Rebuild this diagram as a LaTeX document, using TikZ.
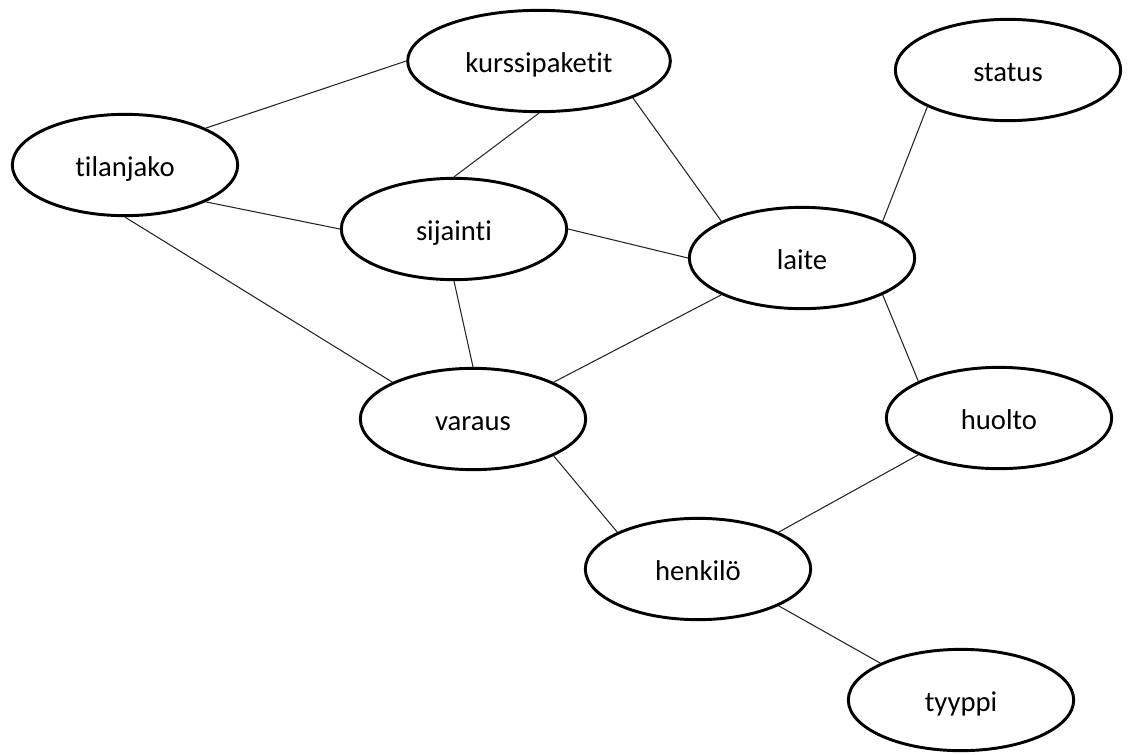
\documentclass[tikz,border=0pt]{standalone}
\usepackage{fontspec}
\setmainfont{Carlito}[Ligatures={NoCommon,NoContextual}]
\usepackage{tikz}
\usetikzlibrary{shapes.geometric}
\definecolor{edgeC}{HTML}{262626}

\begin{document}
\begin{tikzpicture}[x=0.75pt,y=-0.75pt,
  every node/.style={font=\fontsize{21.5}{26}\selectfont},
  ent/.style={ellipse,draw=black,line width=2.2pt,fill=white,inner sep=0pt,
    text height=16.5pt,text depth=0pt,
    minimum width=169pt,minimum height=76pt},
  rel/.style={edgeC,line width=0.8pt}]
  \useasboundingbox (0,0) rectangle (1128,754);
  \node[ent,minimum width=197pt] (kurssi) at (539,61) {kurssipaketit};
  \node[ent] (status)   at (1008,70)  {status};
  \node[ent] (tilan)    at (125,165)  {tilanjako};
  \node[ent] (sijainti) at (454,229)  {sijainti};
  \node[ent] (laite)    at (802,258)  {laite};
  \node[ent] (varaus)   at (473,419)  {varaus};
  \node[ent] (huolto)   at (999,418)  {huolto};
  \node[ent] (henkilo)  at (698,569)  {henkilö};
  \node[ent] (tyyppi)   at (961,700)  {tyyppi};
  \foreach \a/\b in {tilan.north east/kurssi.west,
                     kurssi.south/sijainti.north,
                     kurssi.south east/laite.north west,
                     status.south west/laite.north east,
                     tilan.south east/sijainti.west,
                     sijainti.east/laite.west,
                     tilan.south/varaus.north west,
                     sijainti.south/varaus.north,
                     laite.south west/varaus.north east,
                     laite.south east/huolto.north west,
                     varaus.south east/henkilo.north west,
                     huolto.south west/henkilo.north east,
                     henkilo.south east/tyyppi.north west}
    \draw[rel] (\a) -- (\b);
\end{tikzpicture}
\end{document}
